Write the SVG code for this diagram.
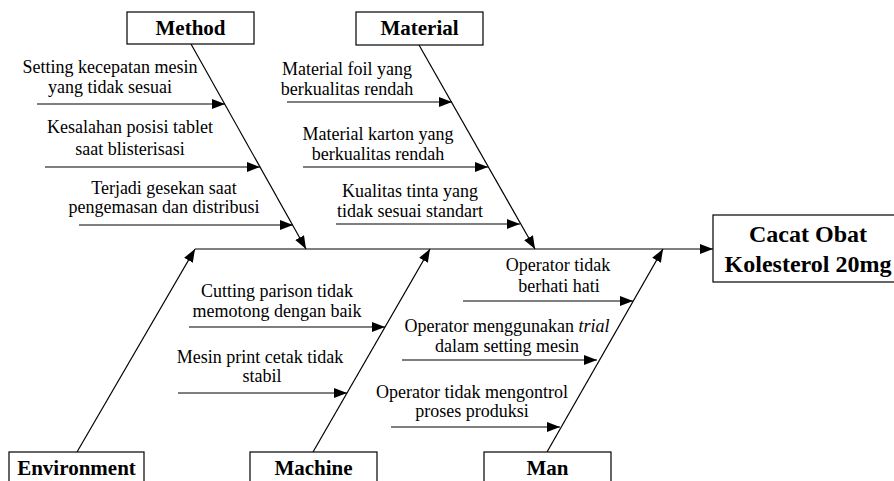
<svg xmlns="http://www.w3.org/2000/svg" width="894" height="481" viewBox="0 0 894 481">
<style>
.box{fill:#fff;stroke:#000;stroke-width:1.2}
.ln{stroke:#000;stroke-width:1.2;fill:none;marker-end:url(#ah)}
</style>
<defs>
<marker id="ah" markerUnits="userSpaceOnUse" markerWidth="14" markerHeight="10" refX="13" refY="5" orient="auto">
<path d="M0,0 L13,5 L0,10 Z" fill="#000"/>
</marker>
</defs>
<rect width="894" height="481" fill="#fff"/>

<g id="connectors">
<line class="ln" x1="195" y1="249" x2="713" y2="249"/>
<line class="ln" x1="191" y1="44" x2="306" y2="249"/>
<line class="ln" x1="419" y1="45" x2="535" y2="249"/>
<line class="ln" x1="77" y1="452" x2="195" y2="249"/>
<line class="ln" x1="313" y1="452" x2="430" y2="249"/>
<line class="ln" x1="547" y1="452" x2="663" y2="249"/>
<line class="ln" x1="37" y1="104" x2="225" y2="104"/>
<line class="ln" x1="45" y1="167" x2="260" y2="167"/>
<line class="ln" x1="79" y1="225" x2="293" y2="225"/>
<line class="ln" x1="287" y1="102" x2="452" y2="102"/>
<line class="ln" x1="303" y1="167" x2="488" y2="167"/>
<line class="ln" x1="336" y1="224" x2="520" y2="224"/>
<line class="ln" x1="189" y1="327" x2="385" y2="327"/>
<line class="ln" x1="178" y1="393" x2="347" y2="393"/>
<line class="ln" x1="463" y1="301" x2="633" y2="301"/>
<line class="ln" x1="402" y1="360" x2="597" y2="360"/>
<line class="ln" x1="391" y1="427" x2="560" y2="427"/>
</g>

<g id="method">
<rect class="box" x="127" y="12" width="127" height="32"/>
<text font-family="Liberation Serif" font-weight="bold" font-size="21" text-anchor="middle" x="190.5" y="35">Method</text>
</g>
<g id="material">
<rect class="box" x="356" y="12" width="127" height="33"/>
<text font-family="Liberation Serif" font-weight="bold" font-size="21" text-anchor="middle" x="419.5" y="35">Material</text>
</g>
<g id="environment">
<rect class="box" x="9" y="452" width="135" height="40"/>
<text font-family="Liberation Serif" font-weight="bold" font-size="21" text-anchor="middle" x="76.5" y="475">Environment</text>
</g>
<g id="machine">
<rect class="box" x="250" y="452" width="127" height="40"/>
<text font-family="Liberation Serif" font-weight="bold" font-size="21" text-anchor="middle" x="313.5" y="475">Machine</text>
</g>
<g id="man">
<rect class="box" x="484" y="452" width="127" height="40"/>
<text font-family="Liberation Serif" font-weight="bold" font-size="21" text-anchor="middle" x="547.5" y="475">Man</text>
</g>
<g id="effect">
<rect class="box" x="713" y="215" width="190" height="67"/>
<text font-family="Liberation Serif" font-weight="bold" font-size="24" text-anchor="middle" x="808" y="242">Cacat Obat</text>
<text font-family="Liberation Serif" font-weight="bold" font-size="24" text-anchor="middle" x="808" y="272">Kolesterol 20mg</text>
</g>

<g id="causes" font-family="Liberation Serif" font-size="18" text-anchor="middle">
<g id="cause-method-1"><text font-family="Liberation Serif" x="110" y="73">Setting kecepatan mesin</text><text font-family="Liberation Serif" x="110" y="93">yang tidak sesuai</text></g>
<g id="cause-method-2"><text font-family="Liberation Serif" x="130" y="133">Kesalahan posisi tablet</text><text font-family="Liberation Serif" x="130" y="155">saat blisterisasi</text></g>
<g id="cause-method-3"><text font-family="Liberation Serif" x="164" y="194">Terjadi gesekan saat</text><text font-family="Liberation Serif" x="164" y="213">pengemasan dan distribusi</text></g>

<g id="cause-material-1"><text font-family="Liberation Serif" x="347" y="75">Material foil yang</text><text font-family="Liberation Serif" x="347" y="95">berkualitas rendah</text></g>
<g id="cause-material-2"><text font-family="Liberation Serif" x="378" y="140">Material karton yang</text><text font-family="Liberation Serif" x="378" y="160">berkualitas rendah</text></g>
<g id="cause-material-3"><text font-family="Liberation Serif" x="410" y="197">Kualitas tinta yang</text><text font-family="Liberation Serif" x="410" y="217">tidak sesuai standart</text></g>

<g id="cause-machine-1"><text font-family="Liberation Serif" x="277" y="297">Cutting parison tidak</text><text font-family="Liberation Serif" x="277" y="317">memotong dengan baik</text></g>
<g id="cause-machine-2"><text font-family="Liberation Serif" x="260" y="363">Mesin print cetak tidak</text><text font-family="Liberation Serif" x="262" y="382">stabil</text></g>

<g id="cause-man-1"><text font-family="Liberation Serif" x="558" y="271">Operator tidak</text><text font-family="Liberation Serif" x="559" y="292">berhati hati</text></g>
<g id="cause-man-2"><text font-family="Liberation Serif" x="507" y="332">Operator menggunakan <tspan font-style="italic">trial</tspan></text><text font-family="Liberation Serif" x="507" y="352">dalam setting mesin</text></g>
<g id="cause-man-3"><text font-family="Liberation Serif" x="472" y="398">Operator tidak mengontrol</text><text font-family="Liberation Serif" x="472" y="417">proses produksi</text></g>
</g>
</svg>
